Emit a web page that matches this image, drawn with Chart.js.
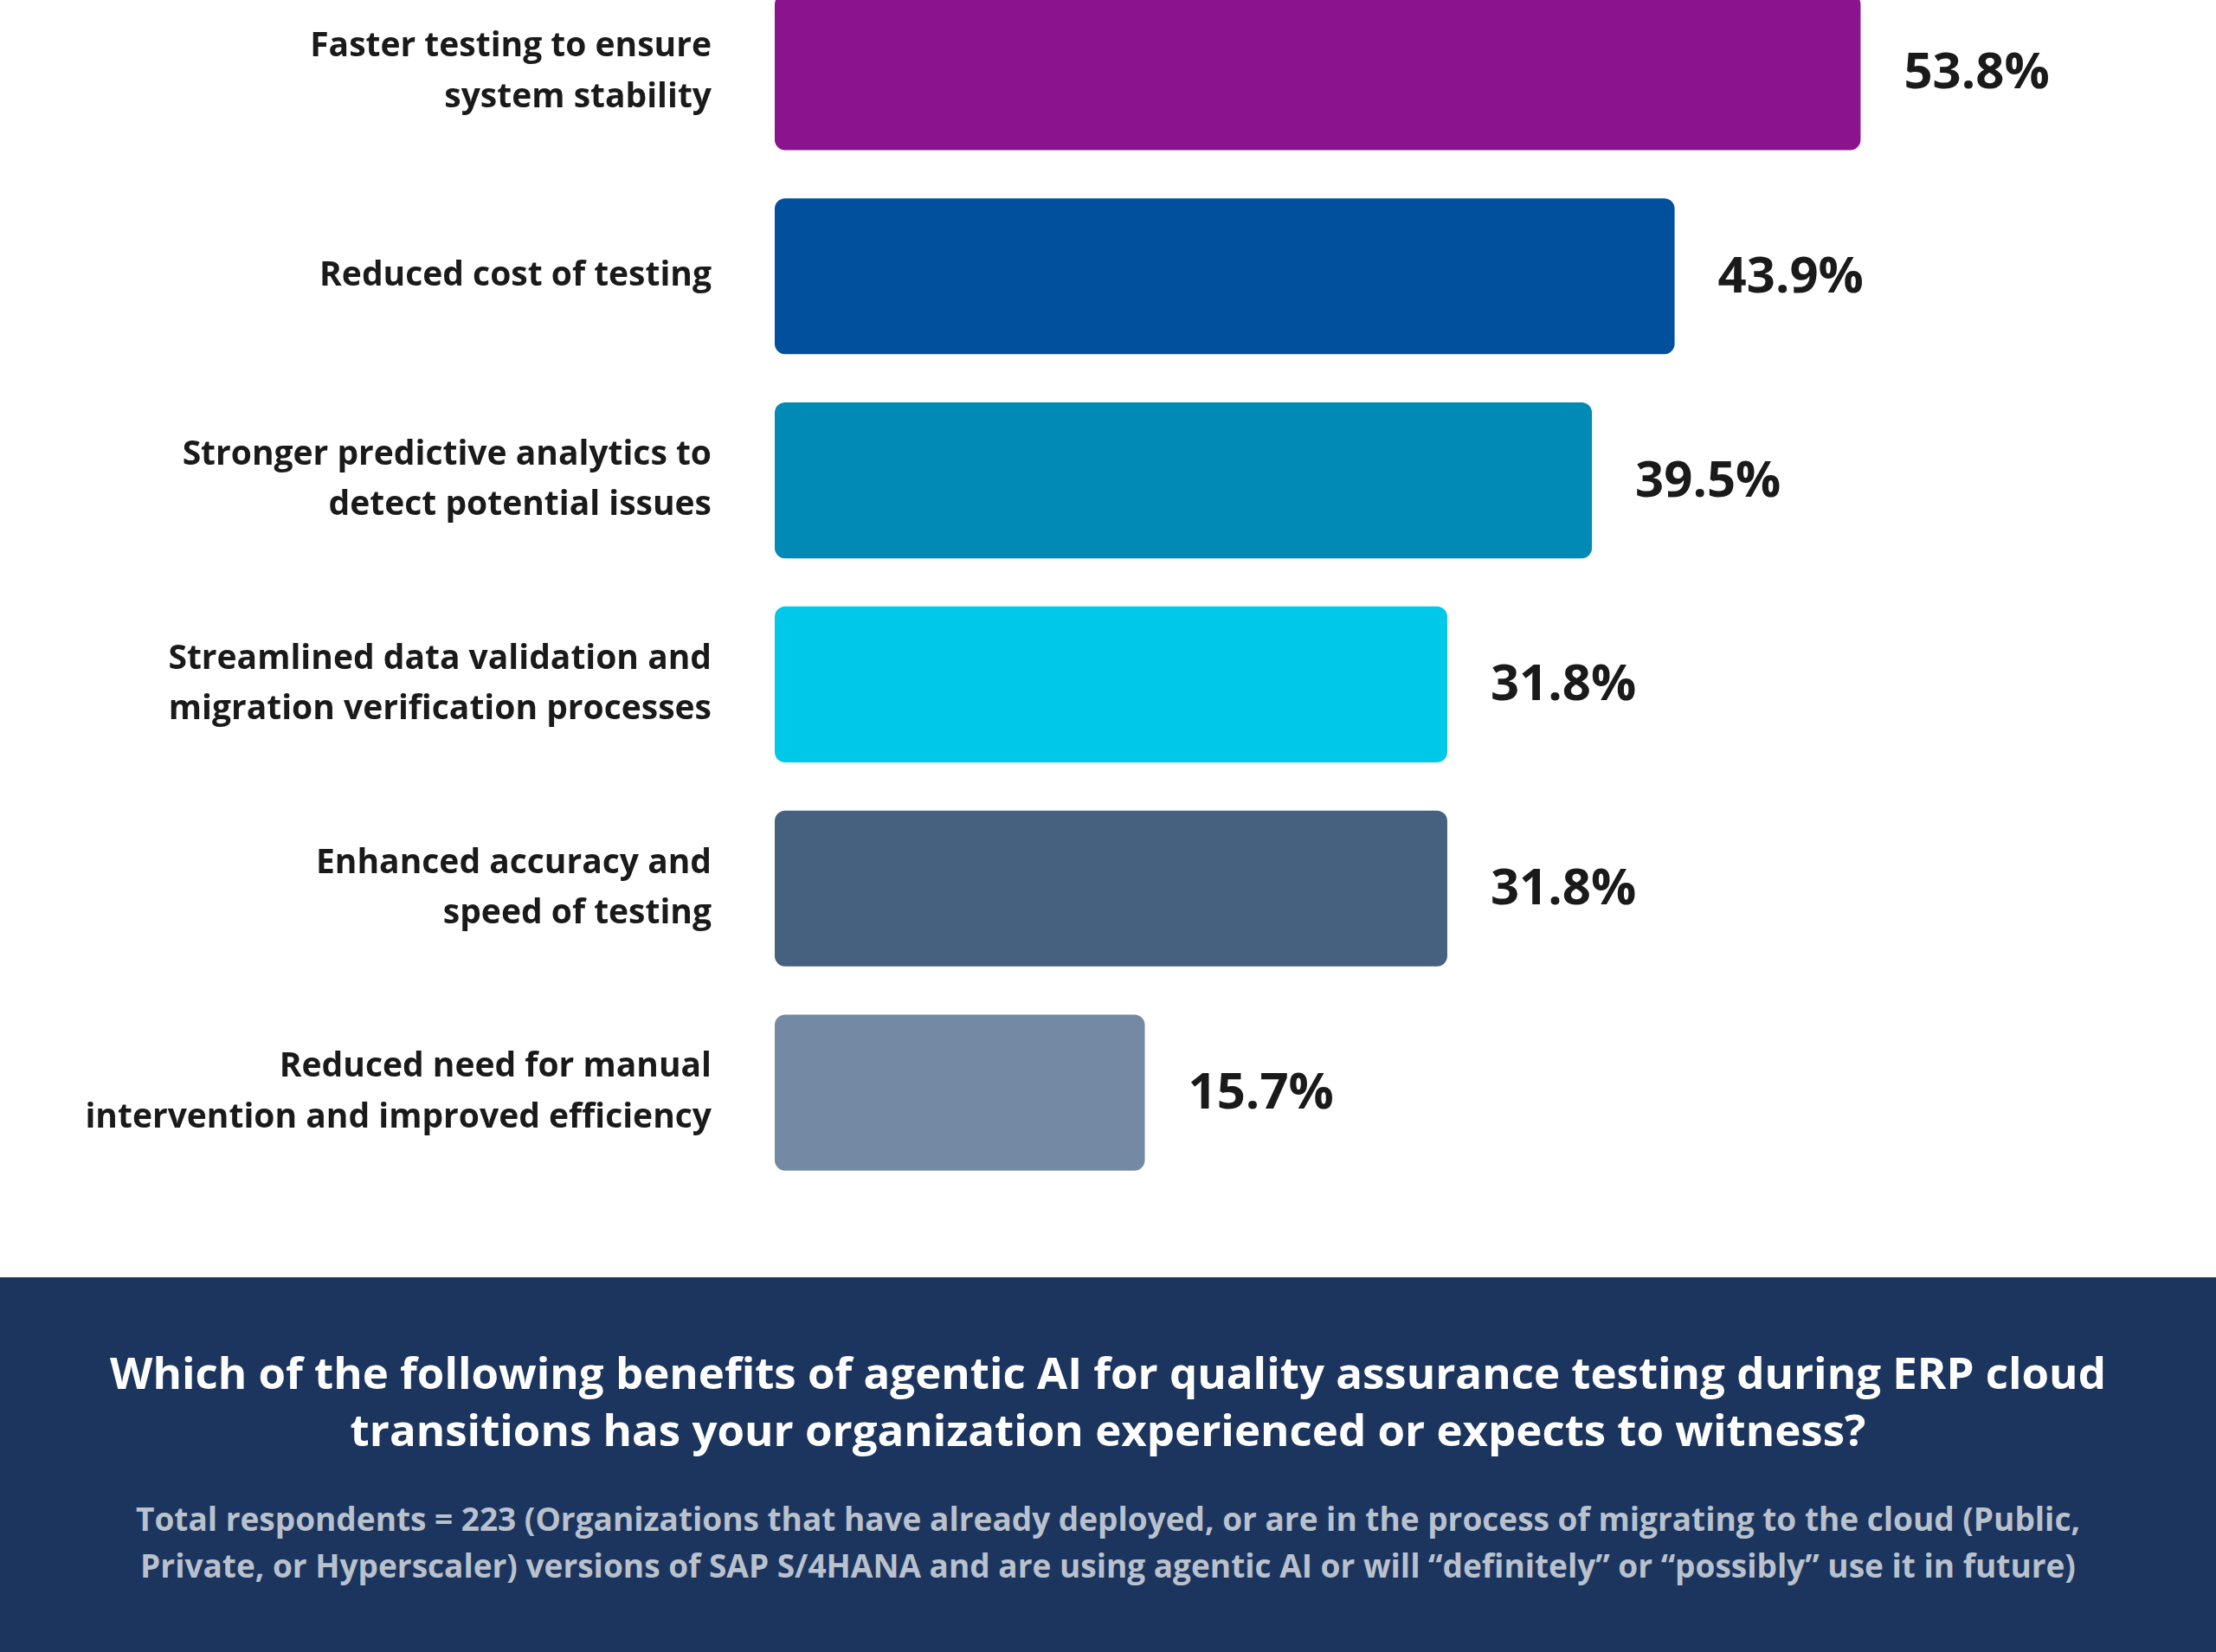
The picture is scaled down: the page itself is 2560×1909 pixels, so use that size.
<!DOCTYPE html>
<html>
<head>
<meta charset="utf-8">
<script src="https://cdn.jsdelivr.net/npm/chart.js@4.4.1/dist/chart.umd.min.js"></script>
<style>
  html, body { margin: 0; padding: 0; background: #fff; width: 2560px; height: 1909px; overflow: hidden; font-family: 'Open Sans', sans-serif; }
  #wrap { position: absolute; left: 0; top: -158px; width: 2560px; height: 1662px; }
  #footer { position: absolute; left: 0; top: 1476px; width: 2560px; height: 433px; background: #1c355e; text-align: center; }
  #footer h1 { margin: 76px 40px 0; color: #fff; font-size: 51px; line-height: 66px; font-weight: 700; }
  #footer p { margin: 44px 140px 0; color: #b9c1cd; font-size: 37px; line-height: 54px; font-weight: 700; }
</style>
</head>
<body>
<div id="wrap"><canvas id="chart"></canvas></div>
<div id="footer">
  <h1>Which of the following benefits of agentic AI for quality assurance testing during ERP cloud<br>transitions has your organization experienced or expects to witness?</h1>
  <p>Total respondents = 223 (Organizations that have already deployed, or are in the process of migrating to the cloud (Public, Private, or Hyperscaler) versions of SAP S/4HANA and are using agentic AI or will “definitely” or “possibly” use it in future)</p>
</div>
<script>
const categories = [
    ['Faster testing to ensure', 'system stability'],
    'Reduced cost of testing',
    ['Stronger predictive analytics to', 'detect potential issues'],
    ['Streamlined data validation and', 'migration verification processes'],
    ['Enhanced accuracy and', 'speed of testing'],
    ['Reduced need for manual', 'intervention and improved efficiency']
];
const values = [53.8, 43.9, 39.5, 31.8, 31.8, 15.7];
const barColors = ['#8a148e', '#00509e', '#008ab5', '#00c8e8', '#46617f', '#7489a3'];

// Draw the percentage next to each bar
const valueLabels = {
    id: 'valueLabels',
    afterDatasetsDraw(chart) {
        const ctx = chart.ctx;
        const meta = chart.getDatasetMeta(0);
        ctx.save();
        ctx.font = "bold 58px 'Open Sans'";
        ctx.fillStyle = '#1a1a1a';
        ctx.textBaseline = 'middle';
        meta.data.forEach((bar, i) => {
            ctx.fillText(values[i].toFixed(1) + '%', bar.x + 50, bar.y + 2);
        });
        ctx.restore();
    }
};

new Chart(document.getElementById('chart'), {
    type: 'bar',
    data: {
        labels: categories,
        datasets: [{
            data: values,
            base: -4,
            backgroundColor: barColors,
            borderRadius: 12,
            borderSkipped: false,
            categoryPercentage: 0.764,
            barPercentage: 1
        }]
    },
    plugins: [valueLabels],
    options: {
        indexAxis: 'y',
        responsive: true,
        maintainAspectRatio: false,
        animation: false,
        layout: { padding: { top: 0, right: 59, bottom: 0, left: 0 } },
        plugins: { legend: { display: false }, tooltip: { enabled: false } },
        scales: {
            x: { display: false, min: -4, max: 70 },
            y: {
                grid: { display: false },
                border: { display: false },
                afterFit(scale) { scale.width = 895; },
                ticks: {
                    color: '#1a1a1a',
                    padding: 65,
                    font: { family: "'Open Sans'", size: 39, weight: 'bold', lineHeight: 1.5 }
                }
            }
        }
    }
});
</script>
</body>
</html>
